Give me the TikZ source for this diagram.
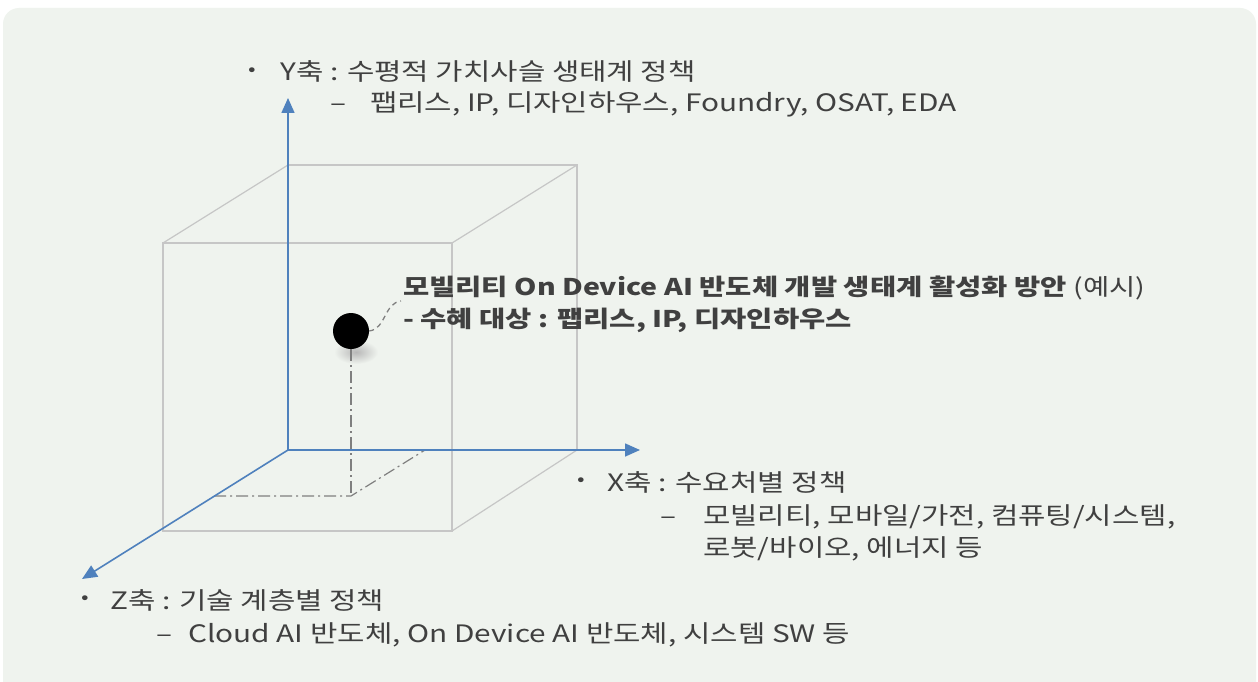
\documentclass[tikz,border=0pt]{standalone}
\usepackage{fontspec}
\setmainfont[FakeStretch=1.24]{Noto Sans CJK KR}
\usetikzlibrary{arrows.meta}
\definecolor{bg}{HTML}{EFF3EE}
\definecolor{axisblue}{HTML}{4F81BD}
\definecolor{cubegray}{HTML}{C6C6C6}
\definecolor{projgray}{HTML}{7F7F7F}
\definecolor{txtgray}{HTML}{404040}
\tikzset{
  axisline/.style={draw=axisblue, line width=1.6pt, -{Triangle[length=15pt,width=13pt]}},
  cubeline/.style={draw=cubegray, line width=1.2pt},
  projline/.style={draw=projgray, line width=1.2pt, dash pattern=on 12pt off 4pt on 2pt off 4pt},
  leader/.style={draw=projgray, line width=1.3pt, dash pattern=on 5pt off 4pt},
  txt/.style={anchor=base west, inner sep=0pt, text=txtgray, font=\fontsize{24}{28}\selectfont},
  btxt/.style={txt, font=\fontsize{23}{27}\selectfont\bfseries},
  bul/.style={anchor=center, inner sep=0pt, text=txtgray, font=\fontsize{18}{20}\selectfont},
}
\begin{document}
\begin{tikzpicture}[x=1pt,y=-1pt]
\useasboundingbox (0,0) rectangle (1258,682);
\fill[white] (0,0) rectangle (1258,682);
\fill[bg, rounded corners=16pt] (3,8) rectangle (1256,700);

% cube
\coordinate (f1) at (163,243); \coordinate (f2) at (452,243);
\coordinate (f3) at (452,531); \coordinate (f4) at (163,531);
\coordinate (b1) at (288,165); \coordinate (b2) at (577,165);
\coordinate (b3) at (577,450); \coordinate (O) at (288,450);
\draw[cubeline] (f1) -- (f2) -- (f3) -- (f4) -- cycle;
\draw[cubeline] (b1) -- (b2) -- (b3) -- (O) -- cycle;
\draw[cubeline] (f1) -- (b1) (f2) -- (b2) (f3) -- (b3);

% projections
\coordinate (pfoot) at (351,496);
\coordinate (pz) at (214,496);
\coordinate (px) at (425,450);
\shade[inner color=black!28, outer color=bg] (356,352) ellipse [x radius=22pt, y radius=12pt];
\node[circle, fill=black, minimum size=36pt, inner sep=0pt] (dot) at (351,331) {};
\draw[projline] (dot.south) -- (pfoot);
\draw[projline] (pz) -- (pfoot) -- (px);

% axes
\coordinate (ytip) at (288,98);
\coordinate (xtip) at (640,450);
\coordinate (ztip) at (82,579);
\draw[axisline] (O) -- (ytip);
\draw[axisline] (O) -- (xtip);
\draw[axisline] (O) -- (ztip);

% label
\coordinate (lend) at (401,301);
\draw[leader] (dot.east) .. controls (386,329) and (384,303) .. (lend);
\node[btxt] (lab1) at (403,295) {모빌리티 On Device AI 반도체 개발 생태계 활성화 방안 \mdseries(예시)};
\node[btxt] (lab2) at (403,327) {- 수혜 대상 : 팹리스, IP, 디자인하우스};

% Y text
\node[bul] (yb) at (252,72) {•};
\node[txt] (y1) at (280,81) {Y축 : 수평적 가치사슬 생태계 정책};
\node[txt] (yd) at (330,112) {–};
\node[txt] (y2) at (370,112) {팹리스, IP, 디자인하우스, Foundry, OSAT, EDA};

% X text
\node[bul] (xb) at (581,482) {•};
\node[txt] (x1) at (607,491) {X축 : 수요처별 정책};
\node[txt] (xd) at (660,524) {–};
\node[txt] (x2) at (703,524) {모빌리티, 모바일/가전, 컴퓨팅/시스템,};
\node[txt] (x3) at (703,556) {로봇/바이오, 에너지 등};

% Z text
\node[bul] (zb) at (85,600) {•};
\node[txt] (z1) at (110,609) {Z축 : 기술 계층별 정책};
\node[txt] (zd) at (156,642) {–};
\node[txt] (z2) at (188,642) {Cloud AI 반도체, On Device AI 반도체, 시스템 SW 등};
\end{tikzpicture}
\end{document}
